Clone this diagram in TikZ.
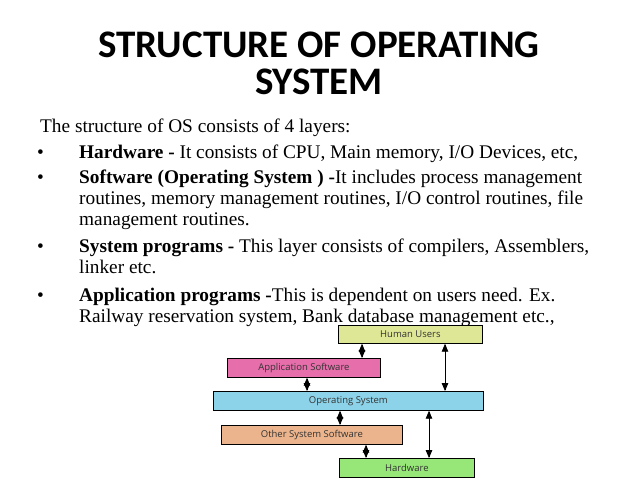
\documentclass[tikz,border=0pt]{standalone}
\usepackage{fontspec}
\setmainfont{Liberation Serif}
\newfontfamily\titlefont{Carlito}
\newfontfamily\boxfont{Open Sans}
\usetikzlibrary{arrows}
\definecolor{huyel}{RGB}{222,231,150}
\definecolor{appink}{RGB}{230,110,170}
\definecolor{osblue}{RGB}{140,210,232}
\definecolor{othor}{RGB}{236,180,140}
\definecolor{hwgreen}{RGB}{150,230,120}
\begin{document}
\begin{tikzpicture}[x=1pt,y=-1pt,>=triangle 45,
    layer/.style={draw,thick,anchor=north west,inner sep=0pt,font=\boxfont\fontsize{9.5}{11}\selectfont,text=black!80},
    line/.style={anchor=base west,inner sep=0pt,font=\fontsize{19.3}{22}\selectfont},
    link/.style={<->,thick}]
  \useasboundingbox (0,0) rectangle (638,479);
  \node[font=\titlefont\bfseries\fontsize{39}{37}\selectfont,align=center] (title) at (319,63)
    {STRUCTURE OF OPERATING\\SYSTEM};
  \node[line] (intro) at (40,132) {The structure of OS consists of 4 layers:};
  \foreach \y in {158,183,252,301}
    \node[line] at (37,\y) {\textbullet};
  \node[line] (l1) at (79,158) {\textbf{Hardware -} It consists of CPU, Main memory, I/O Devices, etc,};
  \node[line] (l2) at (79,183) {\textbf{Software (Operating System ) -}It includes process management};
  \node[line] (l3) at (79,204) {routines, memory management routines, I/O control routines, file};
  \node[line] (l4) at (79,225) {management routines.};
  \node[line] (l5) at (79,252) {\textbf{System programs -} This layer consists of compilers, Assemblers,};
  \node[line] (l6) at (79,273) {linker etc.};
  \node[line] (l7) at (79,301) {\textbf{Application programs -}This is dependent on users need. Ex.};
  \node[line] (l8) at (79,322) {Railway reservation system, Bank database management etc.,};
  % layers
  \node[layer,fill=huyel,minimum width=144pt,minimum height=18pt] (hu) at (338,325) {Human Users};
  \node[layer,fill=appink,minimum width=153pt,minimum height=19pt] (app) at (227,358) {Application Software};
  \node[layer,fill=osblue,minimum width=270pt,minimum height=19pt] (os) at (213,391) {Operating System};
  \node[layer,fill=othor,minimum width=181pt,minimum height=19pt] (other) at (221,425) {Other System Software};
  \node[layer,fill=hwgreen,minimum width=135pt,minimum height=19pt] (hw) at (339,458) {Hardware};
  \draw[link] (hu.south west) ++(24,0) coordinate (a1) -- (a1 |- app.north);
  \draw[link] (app.south west) ++(80,0) coordinate (a2) -- (a2 |- os.north);
  \draw[link] (os.south west) ++(127,0) coordinate (a3) -- (a3 |- other.north);
  \draw[link] (other.south west) ++(145,0) coordinate (a4) -- (a4 |- hw.north);
  \draw[link] (hu.south west) ++(107,0) coordinate (a5) -- (a5 |- os.north);
  \draw[link] (os.south west) ++(216,0) coordinate (a6) -- (a6 |- hw.north);
\end{tikzpicture}
\end{document}
